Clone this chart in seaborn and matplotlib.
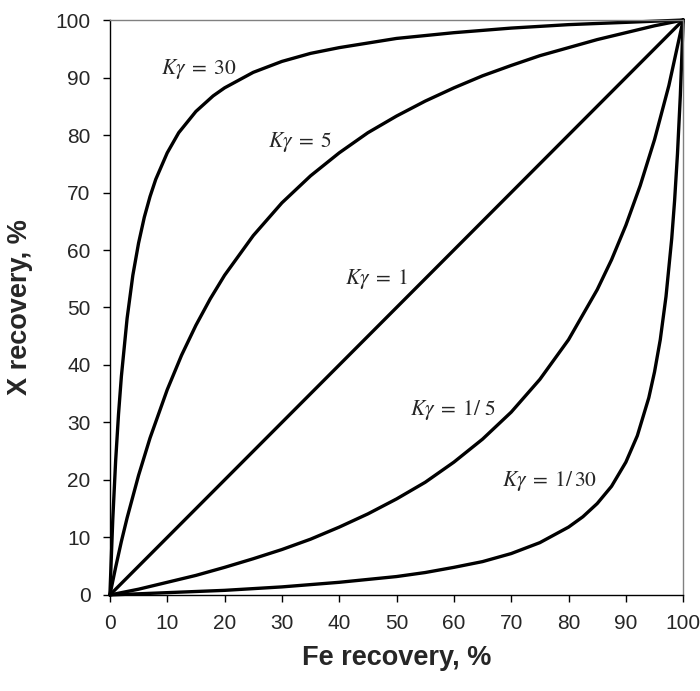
import numpy as np
import pandas as pd
import matplotlib
matplotlib.use('Agg')
import matplotlib.pyplot as plt
import seaborn as sns

# Fe recovery (%) vs X recovery (%)
fe_30 = [0, 0.5, 1, 1.5, 2, 3, 4, 5, 6, 7, 8, 10, 12, 15, 18, 20, 25, 30, 35, 40, 50, 60, 70, 80, 90, 100]
x_30 = [0, 13.1, 23.3, 31.4, 38.0, 48.1, 55.6, 61.2, 65.7, 69.3, 72.3, 76.9, 80.4, 84.1, 86.8, 88.2,
        90.9, 92.8, 94.2, 95.2, 96.8, 97.8, 98.6, 99.2, 99.6, 100]

fe_5 = [0, 1, 2, 3, 5, 7, 10, 12.5, 15, 17.5, 20, 25, 30, 35, 40, 45, 50, 55, 60, 65, 70, 75, 80,
        85, 90, 95, 100]
x_5 = [0, 4.8, 9.3, 13.4, 20.8, 27.3, 35.7, 41.7, 46.9, 51.5, 55.6, 62.5, 68.2, 72.9, 76.9, 80.4,
       83.3, 85.9, 88.2, 90.3, 92.1, 93.8, 95.2, 96.6, 97.8, 99.0, 100]

fe_1 = [0, 10, 20, 30, 40, 50, 60, 70, 80, 90, 100]
x_1 = [0, 10, 20, 30, 40, 50, 60, 70, 80, 90, 100]

fe_1_5 = [0, 5, 10, 15, 20, 25, 30, 35, 40, 45, 50, 55, 60, 65, 70, 75, 80, 85, 87.5, 90, 92.5,
          95, 97.5, 100]
x_1_5 = [0, 1.0, 2.2, 3.4, 4.8, 6.3, 7.9, 9.7, 11.8, 14.1, 16.7, 19.6, 23.1, 27.1, 31.8, 37.5,
         44.4, 53.1, 58.3, 64.3, 71.2, 79.2, 88.6, 100]

fe_1_30 = [0, 10, 20, 30, 40, 50, 55, 60, 65, 70, 75, 80, 82.5, 85, 87.5, 90, 92, 94, 95, 96, 97,
           98, 98.5, 99, 99.5, 100]
x_1_30 = [0, 0.4, 0.8, 1.4, 2.2, 3.2, 3.9, 4.8, 5.8, 7.2, 9.1, 11.8, 13.6, 15.9, 18.9, 23.1, 27.7,
          34.3, 38.8, 44.4, 51.9, 62.0, 68.6, 76.7, 86.9, 100]

curves = {'30': (fe_30, x_30), '5': (fe_5, x_5), '1': (fe_1, x_1),
          '1/5': (fe_1_5, x_1_5), '1/30': (fe_1_30, x_1_30)}

labels = [r'$K\gamma\;=\;30$', r'$K\gamma\;=\;5$', r'$K\gamma\;=\;1$',
          r'$K\gamma\;=\;1/\ 5$', r'$K\gamma\;=\;1/\,30$']
label_x = [9, 27.5, 41, 52.3, 68.4]
label_y = [91.5, 78.8, 55, 32.2, 19.8]

rows = []
for k, (fe, xr) in curves.items():
    for a, b in zip(fe, xr):
        rows.append({'K': k, 'fe': a, 'x': b})
df = pd.DataFrame(rows)

sns.set_style('ticks')
plt.rcParams['font.family'] = ['Liberation Sans', 'DejaVu Sans']
plt.rcParams['mathtext.fontset'] = 'stix'

fig, ax = plt.subplots(figsize=(7, 6.91), dpi=100)
fig.subplots_adjust(left=0.157, right=0.976, bottom=0.139, top=0.971)

for k in curves:
    sns.lineplot(data=df[df['K'] == k], x='fe', y='x', ax=ax, color='black',
                 linewidth=2.4, sort=False, estimator=None, clip_on=False)

for t, lx, ly in zip(labels, label_x, label_y):
    ax.text(lx, ly, t, fontsize=15.5, va='center', ha='left')

ax.set_xlim(0, 100)
ax.set_ylim(0, 100)
ax.set_xticks(np.arange(0, 101, 10))
ax.set_yticks(np.arange(0, 101, 10))
ax.tick_params(axis='both', labelsize=15, length=5, width=1, color='black')
ax.tick_params(axis='y', pad=9)
ax.tick_params(axis='x', pad=9)
ax.set_xlabel('Fe recovery, %', fontsize=19.5, fontweight='bold', labelpad=8)
ax.set_ylabel('X recovery, %', fontsize=19.5, fontweight='bold', labelpad=16)

for s in ['left', 'bottom']:
    ax.spines[s].set_color('black')
    ax.spines[s].set_linewidth(1)
for s in ['top', 'right']:
    ax.spines[s].set_visible(True)
    ax.spines[s].set_color('#808080')
    ax.spines[s].set_linewidth(1)

fig.savefig('out.png', dpi=100)
